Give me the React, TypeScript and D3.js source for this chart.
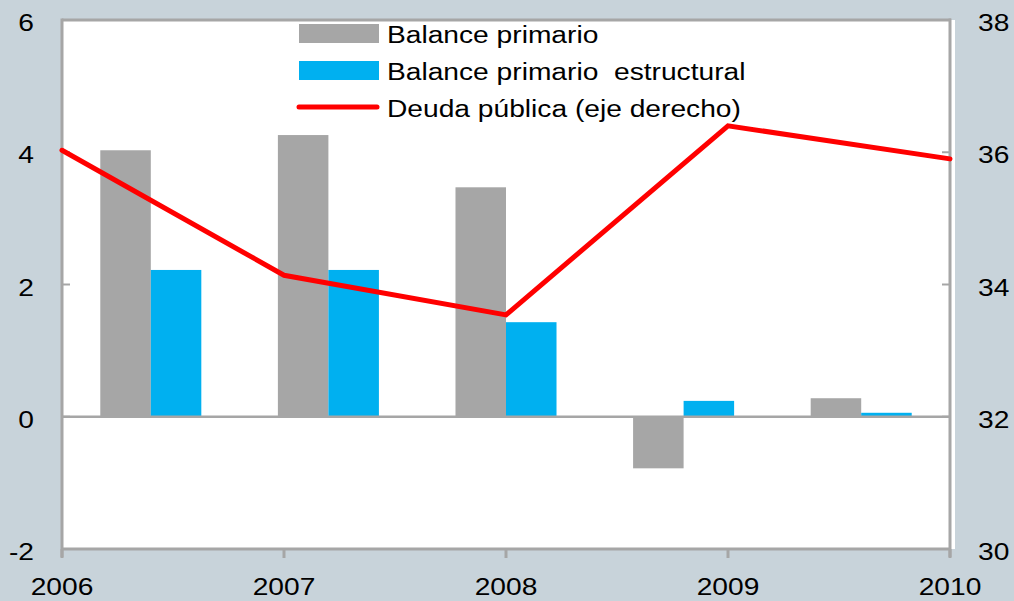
import React from 'react'
import * as d3 from 'd3'

const YEARS = ['2006', '2007', '2008', '2009', '2010']
const BALANCE_PRIMARIO = [4.03, 4.26, 3.47, -0.78, 0.28]
const BALANCE_ESTRUCTURAL = [2.22, 2.22, 1.43, 0.24, 0.06]
const DEUDA_PUBLICA = [36.03, 34.14, 33.54, 36.4, 35.9]
const LEFT_TICKS = [-2, 0, 2, 4, 6]
const RIGHT_TICKS = [30, 32, 34, 36, 38]
const SERIES = ['Balance primario', 'Balance primario  estructural']
const LINE_LABEL = 'Deuda pública (eje derecho)'

const W = 1014
const H = 601
const BG = '#c8d3da'
const AXIS = '#a6a6a6'
const GRAY = '#a6a6a6'
const BLUE = '#00b0f0'
const RED = '#ff0000'
const FONT = "'Liberation Sans', Arial, sans-serif"
const SX = 1.15

const left = 62
const right = 950
const top = 20
const bottom = 549

export default function App() {
  const yL = d3.scaleLinear().domain([-2, 6]).range([bottom, top])
  const yR = d3.scaleLinear().domain([30, 38]).range([bottom, top])
  const xCat = d3.scaleBand<string>().domain(YEARS).range([left, right]).padding(0)
  const xSub = d3.scaleBand<string>().domain(SERIES).range([0, xCat.step()]).paddingInner(0).paddingOuter(0.758)
  const xPt = d3.scalePoint<string>().domain(YEARS).range([left, right])

  const values = [BALANCE_PRIMARIO, BALANCE_ESTRUCTURAL]
  const colors = [GRAY, BLUE]

  const line = d3.line<number>()
    .x((_, i) => xPt(YEARS[i])!)
    .y(d => yR(d))

  const txt = (x: number, y: number, s: string, anchor: string, key?: string) => (
    <text key={key} transform={`translate(${x},${y}) scale(${SX},1)`} textAnchor={anchor}
      fontSize={24.5} fontFamily={FONT} fill="#000" xmlSpace="preserve">{s}</text>
  )

  return (
    <div style={{ position: 'fixed', left: 0, top: 0, width: W, height: H }}>
      <svg width={W} height={H} style={{ display: 'block' }}>
        <rect width={W} height={H} fill={BG} />
        <rect x={left} y={top} width={right - left + 5} height={bottom - top} fill="#fff" />

        {/* bars */}
        {values.map((vals, s) =>
          vals.map((v, i) => (
            <rect key={`${s}-${i}`}
              x={xCat(YEARS[i])! + xSub(SERIES[s])!}
              y={Math.min(yL(v), yL(0))}
              width={xSub.bandwidth()}
              height={Math.abs(yL(v) - yL(0))}
              fill={colors[s]} />
          ))
        )}

        {/* frame and axes */}
        <line x1={left} x2={right + 1} y1={top} y2={top} stroke={AXIS} strokeWidth={3} />
        <line x1={left} x2={left} y1={top - 1.5} y2={bottom + 8} stroke={AXIS} strokeWidth={3} />
        <line x1={right} x2={right} y1={top - 1.5} y2={bottom + 8} stroke={AXIS} strokeWidth={3} />
        <line x1={left} x2={right} y1={bottom} y2={bottom} stroke={AXIS} strokeWidth={3} />
        <line x1={left} x2={right} y1={yL(0)} y2={yL(0)} stroke={AXIS} strokeWidth={2.5} />
        {LEFT_TICKS.map(t => (
          <line key={`lt${t}`} x1={left} x2={left + 8} y1={yL(t)} y2={yL(t)} stroke={AXIS} strokeWidth={2} />
        ))}
        {RIGHT_TICKS.map(t => (
          <line key={`rt${t}`} x1={right - 8} x2={right} y1={yR(t)} y2={yR(t)} stroke={AXIS} strokeWidth={2} />
        ))}
        {YEARS.map(y => (
          <line key={`xt${y}`} x1={xPt(y)!} x2={xPt(y)!} y1={bottom} y2={bottom + 9} stroke={AXIS} strokeWidth={3} />
        ))}

        {/* tick labels */}
        {LEFT_TICKS.map(t => txt(34, yL(t) + 11, String(t), 'end', `ll${t}`))}
        {RIGHT_TICKS.map(t => txt(978, yR(t) + 11, String(t), 'start', `rl${t}`))}
        {YEARS.map(y => txt(xPt(y)!, 595, y, 'middle', `xl${y}`))}

        {/* debt line */}
        <path d={line(DEUDA_PUBLICA)!} fill="none" stroke={RED} strokeWidth={5} strokeLinecap="round" />

        {/* legend */}
        <rect x={299} y={24} width={80} height={19} fill={GRAY} />
        <rect x={299} y={61} width={80} height={19} fill={BLUE} />
        <line x1={299} x2={377} y1={107} y2={107} stroke={RED} strokeWidth={5} strokeLinecap="round" />
        {txt(387, 43, SERIES[0], 'start', 'lg0')}
        {txt(387, 80, SERIES[1], 'start', 'lg1')}
        {txt(387, 117, LINE_LABEL, 'start', 'lg2')}
      </svg>
    </div>
  )
}
